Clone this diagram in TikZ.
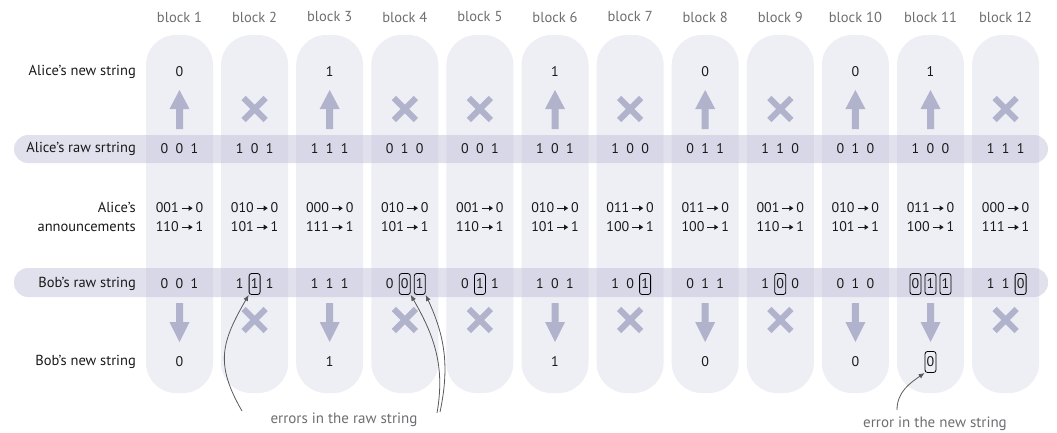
\documentclass[tikz,border=0pt]{standalone}
\usepackage{fontspec}
\setmainfont{PT Sans}
\usepackage{xcolor}
\usepackage{tikz}
\usetikzlibrary{arrows.meta}
\definecolor{colfill}{HTML}{EEEEF5}
\definecolor{bandfill}{HTML}{BDBDD8}
\definecolor{arwgray}{HTML}{B1B2CB}
\definecolor{txtgray}{HTML}{6D6E71}
\definecolor{linegray}{HTML}{58595B}
\newcommand\arr{\tikz[baseline=-0.6ex]\draw[line width=1.2pt,-{Triangle[length=4pt,width=5pt]}] (0pt,0pt)--(11pt,0pt);}

\begin{document}
\begin{tikzpicture}[x=1pt,y=-1pt,
	col/.style={fill=colfill,rounded corners=30pt},
	band/.style={fill=bandfill,fill opacity=0.45,rounded corners=14pt},
	blk/.style={text=txtgray,font=\fontsize{14.5}{17}\selectfont},
	lbl/.style={anchor=east,inner sep=0pt,text=black!90,font=\fontsize{14.5}{19}\selectfont},
	bit/.style={inner sep=0pt,text=black!90,font=\fontsize{14}{19}\selectfont},
	bitn/.style={bit},
	bity/.style={bit,draw,rounded corners=2.5pt,line width=0.8pt,minimum width=11pt,minimum height=21pt},
	arw/.style={fill=arwgray},
	crs/.style={draw=arwgray,line width=6pt},
	note/.style={text=txtgray,font=\fontsize{15}{17}\selectfont},
	pnt/.style={draw=linegray,line width=0.8pt,-{Latex[length=6pt,width=5pt]}}]
			\useasboundingbox (0,0) rectangle (1057,432);
			% Vẽ cột
			\foreach \i in {1,...,12}{
			\pgfmathsetmacro\cx{179.5+75.1*(\i-1)}
			\fill[col] (\cx-33.5,35) rectangle (\cx+33.5,393);
			\node[blk] (blk\i) at (\cx,17) {block \i};}
			\fill[band] (14,135) rectangle (1048,163);
			\fill[band] (14,268) rectangle (1048,297);
			% Nhãn hàng
			\node[lbl] (lnew) at (136,72) {Alice’s new string};
			\node[lbl] (lraw) at (136,149) {Alice’s raw srtring};
			\node[lbl,align=right] (lann) at (136,217) {Alice’s\\announcements};
			\node[lbl] (lbraw) at (136,284) {Bob’s raw string};
			\node[lbl] (lbnew) at (136,362) {Bob’s new string};
			% Chuỗi mới của Alice
			\foreach \v [count=\i] in {0,x,1,x,x,1,x,0,x,0,1,x}{
			\pgfmathsetmacro\cx{179.5+75.1*(\i-1)}
			\if\v x
			\draw[crs] (\cx-11,98)--(\cx+11,120) (\cx-11,120)--(\cx+11,98);
			\else
			\node[bit] (an\i) at (\cx,72) {\v};
			\fill[arw] (\cx,90)--(\cx+10,109)--(\cx+3.5,109)--(\cx+3.5,129)--(\cx-3.5,129)--(\cx-3.5,109)--(\cx-10,109)--cycle;
			\fi}
			% Chuỗi thô của Alice
			\foreach \a/\b/\c [count=\i] in {0/0/1,1/0/1,1/1/1,0/1/0,0/0/1,1/0/1,1/0/0,0/1/1,1/1/0,0/1/0,1/0/0,1/1/1}{
			\pgfmathsetmacro\cx{179.5+75.1*(\i-1)}
			\node[bit] (ar\i a) at (\cx-15,149) {\a};
			\node[bit] (ar\i b) at (\cx,149) {\b};
			\node[bit] (ar\i c) at (\cx+15,149) {\c};}
			% Thông báo
			\foreach \p/\q [count=\i] in {001/110,010/101,000/111,010/101,001/110,010/101,011/100,011/100,001/110,010/101,011/100,000/111}{
			\pgfmathsetmacro\cx{179.5+75.1*(\i-1)}
			\node[bit,align=center] (ann\i) at (\cx,217) {\p\,\arr\,0\\\q\,\arr\,1};}
			% Chuỗi thô của Bob
			\foreach \a/\b/\c/\fa/\fb/\fc [count=\i] in {0/0/1/n/n/n,1/1/1/n/y/n,1/1/1/n/n/n,0/0/1/n/y/y,0/1/1/n/y/n,1/0/1/n/n/n,1/0/1/n/n/y,0/1/1/n/n/n,1/0/0/n/y/n,0/1/0/n/n/n,0/1/1/y/y/y,1/1/0/n/n/y}{
			\pgfmathsetmacro\cx{179.5+75.1*(\i-1)}
			\node[bit\fa] (br\i a) at (\cx-15,284) {\a};
			\node[bit\fb] (br\i b) at (\cx,284) {\b};
			\node[bit\fc] (br\i c) at (\cx+15,284) {\c};}
			% Chuỗi mới của Bob
			\foreach \v/\f [count=\i] in {0/n,x/n,1/n,x/n,x/n,1/n,x/n,0/n,x/n,0/n,0/y,x/n}{
			\pgfmathsetmacro\cx{179.5+75.1*(\i-1)}
			\if\v x
			\draw[crs] (\cx-11,309)--(\cx+11,331) (\cx-11,331)--(\cx+11,309);
			\else
			\node[bit\f] (bn\i) at (\cx,362) {\v};
			\fill[arw] (\cx,342)--(\cx+10,322)--(\cx+3.5,322)--(\cx+3.5,303)--(\cx-3.5,303)--(\cx-3.5,322)--(\cx-10,322)--cycle;
			\fi}
			% Chú thích
			\node[note] (errraw) at (344,420) {errors in the raw string};
			\node[note] (errnew) at (935,424) {error in the new string};
			\coordinate (e1) at (242,411);
			\coordinate (e2) at (437,413);
			\coordinate (e3) at (440,412);
			\coordinate (e4) at (897,410);
			\draw[pnt] (e1) to[out=120,in=240,looseness=1.2] (br2b.south west);
			\draw[pnt] (e2) to[out=80,in=-60] (br4b.south east);
			\draw[pnt] (e3) to[out=78,in=-65] (br4c.south east);
			\draw[pnt] (e4) to[out=90,in=215] (bn11.south west);
		\end{tikzpicture}
\end{document}
